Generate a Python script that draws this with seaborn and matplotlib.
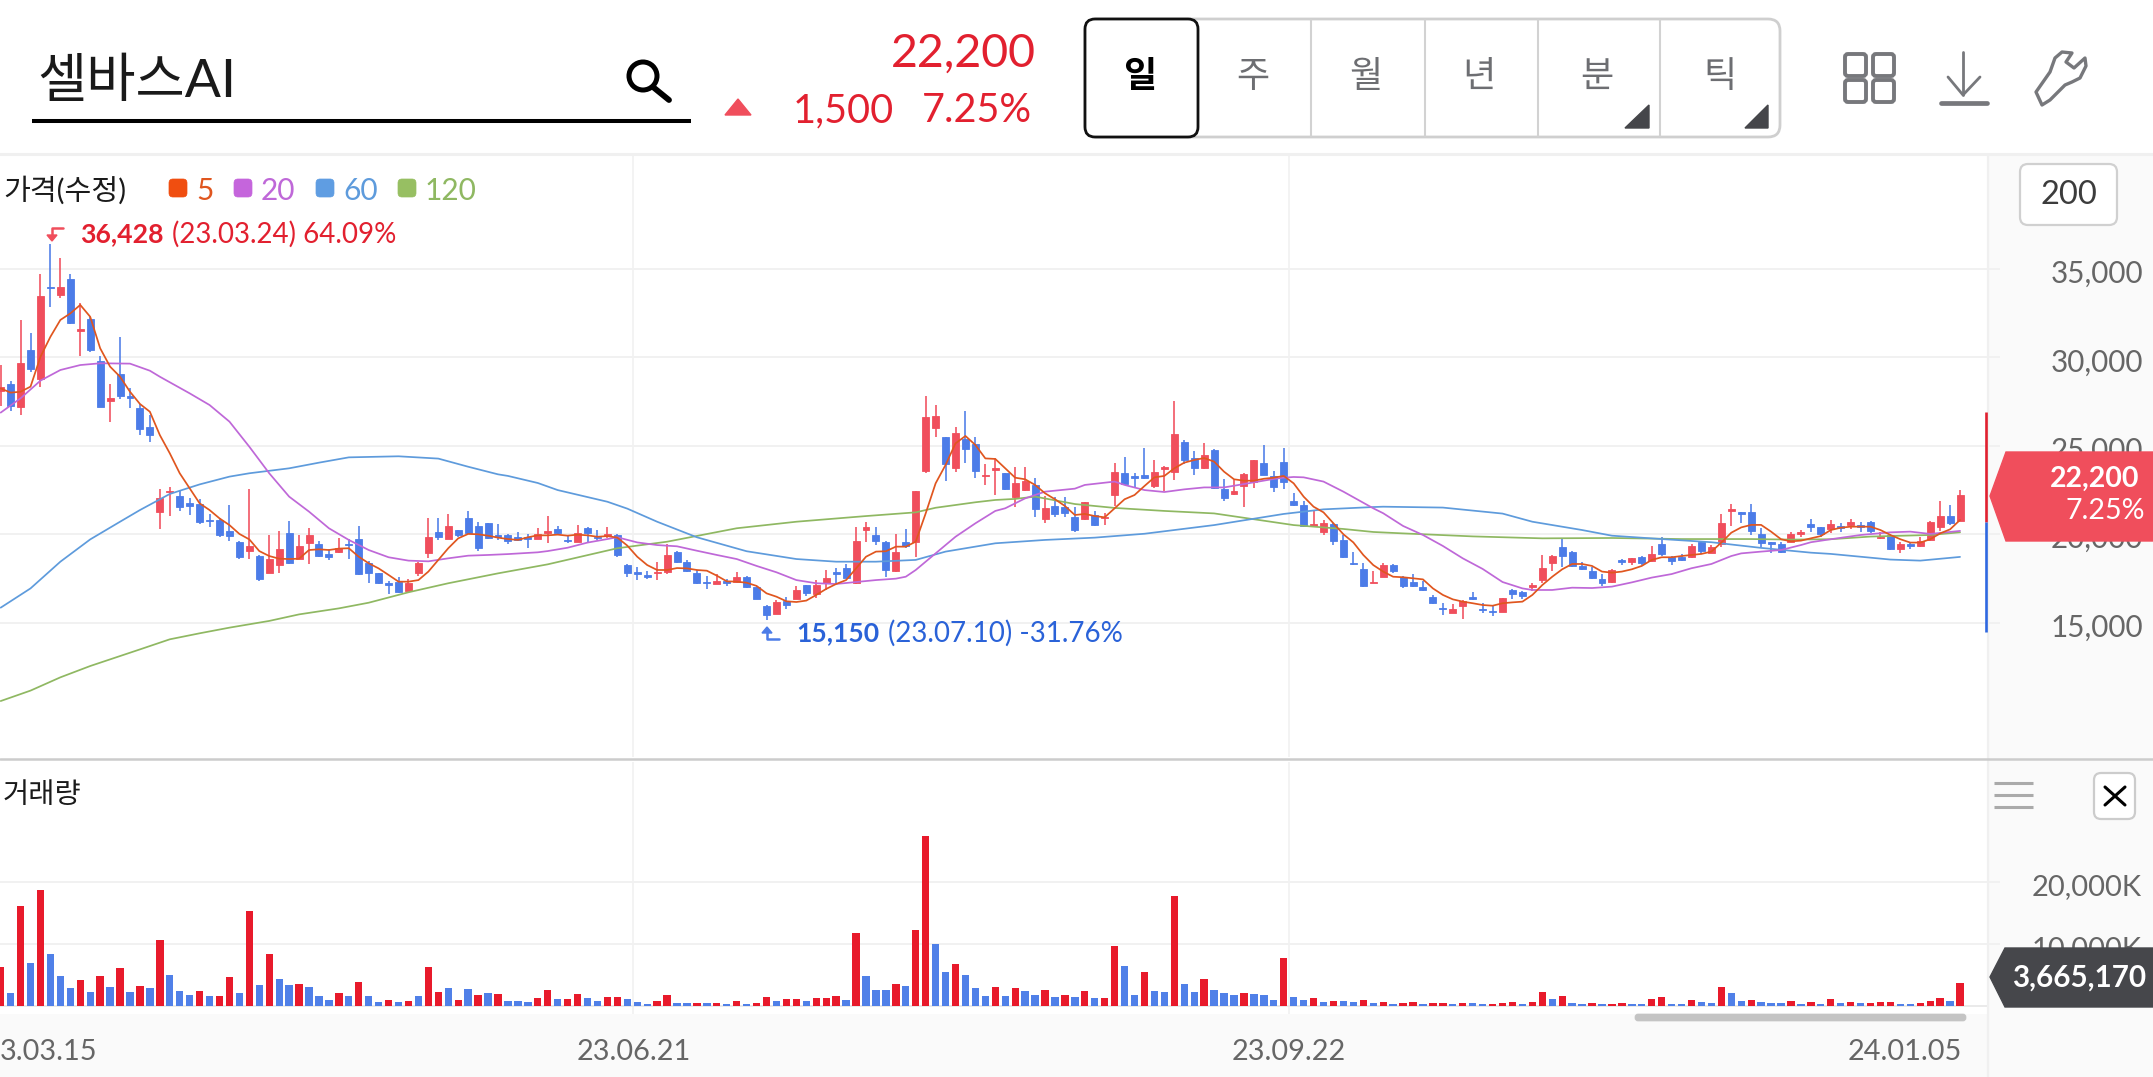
"""Daily candle chart with moving averages and volume, styled like a Korean brokerage app."""

import matplotlib

matplotlib.use("Agg")

import matplotlib.pyplot as plt
import pandas as pd
import seaborn as sns
from matplotlib.patches import Circle, FancyBboxPatch, Polygon
from matplotlib.transforms import ScaledTranslation

WIDTH, HEIGHT = 2153, 1077

# daily prices (won), one entry per candle
opens = [
    28120, 28500, 27220, 30400, 28760, 34000, 33510, 34440, 31510, 32150,
    29820, 27520, 29040, 27820, 27160, 26050, 21260, 22390, 22160, 21770,
    21710, 20810, 20810, 20190, 19560, 19070, 18770, 17830, 18280, 20090,
    18620, 19530, 19450, 18900, 18980, 19470, 19730, 18390, 17790, 17230,
    17300, 16810, 17790, 18920, 20130, 19750, 20220, 20940, 20490, 20620,
    19960, 19940, 19860, 19850, 19730, 20090, 20320, 19700, 19580, 20360,
    19860, 19900, 19960, 18240, 17850, 17680, 17790, 17850, 19020, 18410,
    17830, 17300, 17210, 17340, 17280, 17580, 17040, 15930, 15510, 16210,
    16360, 17110, 16640, 17230, 17850, 18070, 17240, 20220, 19940, 19560,
    17900, 19540, 19560, 23560, 26030, 25500, 23770, 25370, 25090, 23280,
    23630, 23470, 22090, 22500, 22790, 20860, 21600, 21520, 20960, 20860,
    21090, 20920, 22200, 23480, 23280, 23330, 22730, 23670, 23540, 25200,
    24330, 23730, 24750, 22580, 22280, 22710, 22980, 24010, 23300, 24090,
    21900, 21660, 20470, 20130, 20580, 19660, 18390, 18060, 17240, 17600,
    18280, 17600, 17300, 17040, 16440, 15850, 15550, 15960, 16450, 15790,
    15660, 15620, 16850, 16760, 17000, 17430, 18400, 19260, 19020, 18230,
    17940, 17490, 17300, 18550, 18450, 18730, 18470, 19450, 18730, 18730,
    18700, 19560, 18960, 19450, 21340, 21240, 21280, 20000, 19550, 19430,
    19580, 20040, 20600, 20390, 20320, 20470, 20530, 20510, 20700, 19770,
    19980, 19190, 19450, 19360, 19680, 20390, 21030, 20770,
]
highs = [
    29570, 28670, 32120, 31360, 34700, 36428, 35640, 34720, 33100, 32270,
    30100, 28480, 31140, 28250, 27370, 26750, 22540, 22690, 22470, 22030,
    21980, 21150, 20900, 21660, 19640, 22540, 18830, 19960, 20200, 20750,
    19960, 20370, 19640, 19150, 19790, 19710, 20470, 18510, 17830, 17380,
    17570, 17450, 18430, 20940, 20900, 21150, 20240, 21320, 20680, 20640,
    20580, 20020, 20150, 20000, 20340, 21030, 20490, 19960, 20510, 20410,
    20240, 20410, 20000, 18300, 18130, 17920, 18450, 19450, 19050, 18550,
    17980, 17620, 17730, 17450, 17870, 17660, 17080, 15980, 16260, 16470,
    17090, 17150, 17410, 17980, 18070, 18300, 20430, 20680, 20390, 19600,
    20030, 20280, 22450, 27820, 27290, 25520, 26090, 26950, 25520, 23970,
    24290, 23480, 23820, 23820, 23160, 22160, 22090, 22130, 21560, 21840,
    21320, 21180, 24010, 24390, 23480, 24860, 24200, 23860, 27560, 25330,
    24730, 25140, 24800, 23110, 23070, 23450, 24200, 25050, 23600, 24860,
    22320, 21900, 21370, 20810, 20620, 19960, 18980, 18360, 17940, 18360,
    18300, 17640, 17750, 17380, 16590, 16100, 16080, 16270, 16740, 16130,
    15950, 16420, 16890, 16770, 17230, 18830, 18810, 19790, 19060, 18450,
    18170, 17740, 18020, 18580, 18680, 18750, 19340, 19830, 18770, 18870,
    19450, 19580, 19380, 21130, 21690, 21280, 21690, 20370, 19580, 19580,
    20110, 20240, 20850, 20430, 20810, 20660, 20850, 20710, 20750, 20150,
    20020, 19580, 19580, 19830, 20730, 21880, 21640, 22490,
]
lows = [
    27250, 26990, 26750, 29200, 28350, 32830, 33340, 31870, 30100, 30330,
    27200, 26370, 27650, 27120, 25610, 25240, 20320, 21030, 21320, 21090,
    20580, 20390, 19830, 19640, 18580, 18620, 17380, 17790, 17830, 18320,
    18580, 18320, 18730, 18560, 18960, 18620, 17720, 17230, 17210, 16620,
    16700, 16770, 17640, 18660, 19680, 19730, 19860, 20010, 19070, 19710,
    19680, 19450, 19640, 19240, 19710, 19490, 20000, 19490, 19560, 19490,
    19680, 19810, 18730, 17600, 17410, 17490, 17430, 17750, 18380, 17890,
    17190, 16890, 17170, 17080, 17240, 16960, 16320, 15150, 15490, 15760,
    16320, 16510, 16400, 16850, 17230, 17510, 17190, 19560, 19370, 17570,
    17870, 19200, 18730, 23450, 25520, 23030, 23520, 24010, 23160, 22810,
    22220, 22500, 21560, 22470, 20960, 20660, 20960, 21000, 20150, 20810,
    20470, 20510, 21600, 22790, 22650, 23130, 22640, 22430, 23070, 23970,
    23350, 23670, 22580, 21860, 22240, 21560, 22640, 23330, 22370, 22580,
    21600, 20430, 20430, 19960, 19370, 18660, 18260, 17040, 17230, 17570,
    17790, 16940, 17040, 16770, 16060, 15460, 15530, 15210, 16300, 15530,
    15400, 15610, 16360, 16320, 16810, 17230, 17920, 18170, 18170, 18000,
    17490, 17100, 17260, 18240, 18280, 18280, 18430, 18770, 18280, 18490,
    18660, 18890, 18920, 19260, 20470, 20620, 19940, 19300, 18960, 18960,
    19550, 19830, 20150, 19870, 20050, 20150, 20280, 20150, 20050, 19730,
    19130, 18920, 19190, 19280, 19640, 20210, 20510, 20730,
]
closes = [
    28350, 27250, 29670, 29350, 33470, 33930, 33980, 31970, 31590, 30420,
    27220, 27730, 27840, 27690, 25930, 25630, 22050, 22470, 21560, 21580,
    20680, 20730, 19940, 19920, 18730, 19340, 17450, 18580, 19170, 18390,
    19360, 19980, 18790, 18700, 19220, 19410, 17730, 17790, 17230, 17150,
    16750, 17260, 18360, 19850, 19830, 20490, 19960, 20050, 19240, 19770,
    19860, 19640, 19680, 19730, 20020, 20190, 20050, 19600, 20090, 20050,
    19790, 20000, 18830, 17830, 17770, 17580, 17870, 18810, 18410, 17940,
    17260, 17240, 17340, 17260, 17580, 17040, 16360, 15420, 16170, 15980,
    16850, 16660, 17130, 17530, 17770, 17550, 19620, 20410, 19620, 17980,
    18980, 19340, 22430, 26650, 26710, 23970, 25750, 24840, 23600, 23350,
    23730, 22540, 22880, 22990, 21410, 21470, 21150, 21180, 20240, 21830,
    20510, 21000, 23500, 22840, 23160, 23160, 23540, 23800, 25650, 24200,
    23730, 24500, 22600, 22050, 22430, 23430, 24180, 23370, 22650, 22980,
    21640, 20470, 20560, 20660, 19600, 18700, 18300, 17090, 17320, 18260,
    17920, 17080, 17080, 16870, 16110, 15760, 15780, 16230, 16360, 15720,
    15590, 16400, 16620, 16510, 17110, 18110, 18790, 18770, 18210, 18040,
    17530, 17260, 17980, 18450, 18640, 18400, 18870, 18890, 18510, 18530,
    19340, 19040, 19260, 20620, 21410, 21130, 20190, 19490, 19470, 19000,
    20000, 20130, 20430, 20020, 20580, 20370, 20680, 20390, 20170, 19850,
    19150, 19450, 19360, 19640, 20710, 21030, 20660, 22200,
]

# 5-day average, read per candle
ma5 = [
    28250, 28010, 28060, 28350, 30040, 31170, 32120, 32490, 32970, 32300,
    30520, 29480, 28910, 28060, 27370, 26930, 25610, 24580, 23450, 22600,
    21750, 21370, 20900, 20520, 20020, 19710, 19050, 18770, 18620, 18600,
    18620, 19110, 19150, 19110, 19190, 19210, 18730, 18360, 18070, 17700,
    17320, 17320, 17410, 17890, 18550, 19210, 19770, 20020, 20000, 19920,
    19810, 19730, 19680, 19830, 19940, 19940, 19980, 19920, 19980, 19940,
    19860, 19900, 19810, 19360, 18730, 18260, 17980, 17980, 18090, 18070,
    17980, 17940, 17660, 17340, 17320, 17260, 17080, 16660, 16470, 16210,
    16170, 16250, 16570, 16910, 17190, 17410, 18070, 18730, 19020, 19040,
    19300, 19300, 19580, 21180, 22880, 23920, 25140, 25560, 25050, 24290,
    24260, 23730, 23200, 23110, 22790, 22320, 21980, 21600, 21090, 21150,
    21030, 20960, 21470, 21980, 22220, 22730, 23220, 23300, 23730, 24050,
    24200, 24310, 24110, 23540, 23110, 23030, 23030, 23140, 23200, 23300,
    22880, 22130, 21560, 21240, 20620, 20000, 19540, 18830, 18260, 17890,
    17600, 17570, 17510, 17450, 16940, 16570, 16320, 16190, 16100, 16000,
    15960, 16100, 16150, 16190, 16570, 17130, 17600, 18020, 18320, 18320,
    18210, 17890, 17830, 17890, 18020, 18210, 18550, 18700, 18700, 18770,
    18830, 18890, 19020, 19530, 20090, 20390, 20530, 20530, 20150, 19720,
    19600, 19640, 19770, 19900, 20240, 20370, 20430, 20430, 20430, 20240,
    19960, 19720, 19530, 19530, 19720, 20050, 20280, 20810,
]

# longer averages are smooth, so read at fewer candles
ma20_idx = [
    0, 2, 4, 6, 8, 10, 13, 15, 16, 19, 21, 23, 25, 27, 29, 31, 33, 35, 37, 39,
    41, 43, 45, 47, 49, 51, 54, 55, 57, 59, 62, 64, 66, 68, 70, 72, 74, 76, 78,
    80, 82, 84, 86, 88, 90, 91, 92, 94, 96, 98, 100, 101, 103, 105, 108, 109,
    112, 113, 115, 117, 119, 121, 123, 125, 128, 129, 130, 131, 133, 135, 138,
    139, 141, 143, 145, 147, 149, 151, 153, 154, 156, 158, 160, 162, 164, 166,
    168, 170, 172, 174, 175, 177, 179, 181, 182, 184, 187, 190, 192, 194, 197,
]
ma20_val = [
    26880, 27690, 28690, 29290, 29570, 29670, 29650, 29250, 28910, 27970,
    27310, 26370, 24950, 23450, 22130, 21280, 20340, 19680, 19110, 18700,
    18510, 18470, 18640, 18790, 18830, 18880, 18980, 19050, 19240, 19530,
    19830, 19540, 19390, 19320, 19070, 18830, 18600, 18210, 17850, 17410,
    17230, 17190, 17300, 17410, 17490, 17600, 17980, 18920, 19860, 20620,
    21320, 21470, 22030, 22410, 22580, 22790, 22980, 22790, 22500, 22390,
    22540, 22650, 22650, 22840, 23130, 23200, 23240, 23220, 22980, 22410,
    21470, 21190, 20470, 19960, 19340, 18640, 18040, 17300, 16940, 16850,
    16850, 16980, 16960, 17040, 17280, 17550, 17750, 18080, 18320, 18770,
    18920, 19020, 19110, 19390, 19550, 19720, 19960, 20110, 20150, 20020,
    20190,
]
ma60_idx = [
    0, 3, 6, 9, 12, 14, 17, 20, 23, 25, 29, 32, 35, 40, 44, 47, 50, 51, 54, 56,
    61, 63, 66, 70, 75, 80, 84, 88, 92, 95, 100, 105, 110, 115, 122, 129, 133,
    138, 139, 145, 151, 154, 159, 162, 167, 172, 177, 182, 184, 190, 193, 197,
]
ma60_val = [
    15850, 16940, 18450, 19710, 20710, 21370, 22280, 22820, 23260, 23450,
    23730, 24050, 24350, 24410, 24280, 23820, 23390, 23300, 22900, 22500,
    21840, 21450, 20710, 19830, 19040, 18600, 18450, 18450, 18550, 19020,
    19490, 19680, 19810, 20030, 20520, 21150, 21410, 21540, 21560, 21510,
    21170, 20710, 20240, 19920, 19730, 19550, 19230, 18960, 18890, 18570,
    18510, 18720,
]
ma120_idx = [
    0, 3, 6, 9, 14, 17, 20, 23, 27, 30, 34, 37, 41, 45, 50, 55, 62, 67, 74, 80,
    87, 92, 94, 98, 100, 102, 104, 108, 112, 117, 122, 126, 130, 135, 138, 141,
    148, 155, 162, 169, 176, 180, 184, 188, 194, 197,
]
ma120_val = [
    10570, 11160, 11910, 12550, 13490, 14060, 14400, 14720, 15100, 15470,
    15810, 16130, 16720, 17230, 17790, 18300, 19210, 19580, 20340, 20710,
    21030, 21240, 21500, 21810, 21940, 22000, 22130, 21710, 21490, 21320,
    21180, 20850, 20520, 20300, 20130, 20050, 19880, 19770, 19790, 19730,
    19730, 19700, 19720, 19870, 19960, 20110,
]

# volume in thousands of shares; "r" and "b" give the bar colour
volumes = [
    6320, 2050, 16100, 6860, 18750, 8380, 4760, 2970, 4160, 2220,
    4810, 3130, 6160, 2270, 3240, 2860, 10590, 5030, 2380, 1780,
    2380, 1620, 1620, 4700, 2160, 15300, 3400, 8320, 4380, 3350,
    3620, 3080, 1620, 970, 2110, 1570, 3890, 1620, 700, 920,
    700, 760, 1620, 6270, 2320, 2970, 970, 2810, 1730, 2160,
    2000, 760, 760, 700, 1350, 2540, 1080, 1080, 1890, 1240,
    810, 1410, 1510, 1140, 650, 320, 760, 1730, 490, 430,
    490, 430, 490, 270, 810, 270, 490, 1410, 810, 1080,
    1190, 810, 1300, 1300, 1570, 970, 11840, 4860, 2590, 2540,
    3620, 3240, 12210, 27400, 10050, 5410, 6760, 4920, 2860, 1620,
    3080, 1570, 2970, 2380, 1840, 2540, 1410, 1730, 1510, 2430,
    1300, 1300, 9670, 6490, 1780, 5460, 2380, 2220, 17670, 3570,
    2320, 4320, 2650, 2050, 1730, 2050, 1950, 1730, 1030, 7780,
    1410, 1030, 1300, 650, 810, 810, 650, 970, 490, 590,
    270, 490, 590, 380, 430, 490, 270, 490, 430, 270,
    320, 430, 650, 380, 590, 2320, 1190, 1620, 490, 380,
    490, 320, 380, 540, 270, 270, 1140, 1460, 380, 380,
    1030, 590, 490, 3130, 2050, 810, 970, 700, 430, 430,
    810, 380, 700, 380, 1190, 540, 590, 430, 490, 590,
    650, 380, 380, 430, 760, 1350, 810, 3665,
]
volume_flags = (
    "rbrbrbbbrbrbrbrbrbbbrbrrbrbrbbrbbbrbrbbrbrbrrbrbrbrbbbrrbrrbbrrbbbrrbbrbr"
    "brbrrbrrbrrrbrbbbrbrrbbrbbbrbrbbrbrbrbrrbbrbbrbbrbbbrbbbrbbrbrbbrbrbrrbr"
    "rbrbbrrrbrrbrbbrbrrbbrrbbrbbrbbrbbbrbrbrbrbrrrbbrrrbr"
)

price_ticks = [15000, 20000, 25000, 30000, 35000]
price_tick_labels = ["15,000", "20,000", "25,000", "30,000", "35,000"]
volume_ticks = [10000, 20000]
volume_tick_labels = ["10,000K", "20,000K"]
date_labels = ["3.03.15", "23.06.21", "23.09.22", "24.01.05"]
date_positions = [4.85, 63.6, 129.5, 191.4]
period_labels = ["일", "주", "월", "년", "분", "틱"]
ma_labels = ["5", "20", "60", "120"]

UP = "#f04e5c"
DOWN = "#4c7ce8"
VOL_UP = "#e81a2b"
VOL_DOWN = "#5080e8"
TEXT_RED = "#e2202f"
TEXT_BLUE = "#2a62d8"
MA_COLORS = ["#e0561f", "#bf68d8", "#5e9bdc", "#8fb862"]
GRID = "#f1f1f1"
STRIP = "#fafafa"
AXIS_TEXT = "#666666"
ICON = "#77787c"

sns.set_theme(style="white")
plt.rcParams["font.family"] = ["Lato", "Noto Sans CJK KR", "DejaVu Sans"]


def px_axes(fig, left, top, right, bottom, zorder):
    """Axes placed by pixel box of the final image."""
    ax = fig.add_axes(
        [left / WIDTH, 1 - bottom / HEIGHT, (right - left) / WIDTH, (bottom - top) / HEIGHT],
        zorder=zorder,
    )
    ax.patch.set_alpha(0)
    return ax


def round_box(ax, x0, y0, x1, y1, edge, fill="white", lw=1.6, radius=8):
    ax.add_patch(
        FancyBboxPatch(
            (x0, y0), x1 - x0, y1 - y0,
            boxstyle=f"round,pad=0,rounding_size={radius}",
            facecolor=fill, edgecolor=edge, linewidth=lw,
        )
    )


def draw_candles(ax):
    for i, (o, h, l, c) in enumerate(zip(opens, highs, lows, closes)):
        color = UP if c >= o else DOWN
        ax.vlines(i, l, h, color=color, linewidth=1.35, alpha=0.85, zorder=2)
        ax.bar(i, abs(c - o), bottom=min(o, c), width=0.7, color=color,
               edgecolor=color, linewidth=0.6, zorder=2)


def draw_averages(ax):
    series = [
        (list(range(len(ma5))), ma5),
        (ma20_idx, ma20_val),
        (ma60_idx, ma60_val),
        (ma120_idx, ma120_val),
    ]
    # 120 first so the shorter averages stay on top
    for (xs, ys), color, z in reversed(list(zip(series, MA_COLORS, [6, 5, 4, 3]))):
        sns.lineplot(x=xs, y=ys, ax=ax, color=color, linewidth=1.25, errorbar=None, zorder=z)


def style_axis(ax, ticks, labels, pad, size):
    ax.set_yticks(ticks, labels)
    ax.yaxis.tick_right()
    ax.tick_params(axis="y", right=True, length=9, width=1.4, color=GRID, pad=pad,
                   labelsize=size, labelcolor=AXIS_TEXT)
    # labels sit a little under their grid lines
    nudge = ScaledTranslation(0, -2.5 / 100, ax.figure.dpi_scale_trans)
    for label in ax.get_yticklabels():
        label.set_transform(label.get_transform() + nudge)
    ax.grid(axis="y", color=GRID, linewidth=1.4, zorder=0)
    ax.set_xlabel("")
    ax.set_ylabel("")
    sns.despine(ax=ax, left=True, bottom=True, right=True, top=True)
    for x in date_positions[1:3]:
        ax.axvline(x, color=GRID, linewidth=1.2, zorder=0)


def draw_header(ov):
    ov.text(37, 82, "셀바스AI", fontsize=38.5, color="#1a1a1a", va="center", ha="left")
    ov.plot([32, 691], [121, 121], color="black", linewidth=2.9, solid_capstyle="butt")
    ov.add_patch(Circle((643, 76), 14, fill=False, edgecolor="black", linewidth=3.6))
    ov.plot([653, 669], [87, 100], color="black", linewidth=4.2, solid_capstyle="round")

    ov.text(1036, 54, "22,200", fontsize=33.5, color=TEXT_RED, ha="right", va="center")
    ov.add_patch(Polygon([(725, 115), (738, 99), (751, 115)], color=UP))
    ov.text(894, 111, "1,500", fontsize=28.5, color=TEXT_RED, ha="right", va="center")
    ov.text(1032, 111, "7.25%", fontsize=28.5, color=TEXT_RED, ha="right", va="center")

    # period selector
    round_box(ov, 1085, 19, 1780, 137, "#cfcfcf", lw=2, radius=12)
    for x in [1311, 1425, 1538, 1660]:
        ov.plot([x, x], [20, 136], color="#d2d2d2", linewidth=1.5)
    round_box(ov, 1085, 19, 1198, 137, "#111111", lw=2, radius=10)
    label_xs = [1140, 1253, 1366, 1479, 1597, 1720]
    for i, (x, label) in enumerate(zip(label_xs, period_labels)):
        ov.text(x, 76, label, fontsize=26, ha="center", va="center",
                color="black" if i == 0 else "#6d6e72", fontweight="bold" if i == 0 else "normal")
    for x0, x1 in [(1625, 1649), (1745, 1768)]:
        ov.add_patch(Polygon([(x0, 128), (x1, 105), (x1, 128)], color="#45464a"))

    # layout, download and settings icons
    for x0 in [1845, 1873]:
        for y0 in [54, 80]:
            round_box(ov, x0, y0, x0 + 21, y0 + 22, ICON, fill="none", lw=2.8, radius=3)
    ov.plot([1963, 1963], [52, 95], color=ICON, linewidth=2)
    ov.plot([1948, 1963, 1980], [77, 95, 77], color=ICON, linewidth=2)
    ov.plot([1941, 1987], [103, 103], color=ICON, linewidth=3.4)
    ov.add_patch(Polygon(
        [(2036, 92), (2042, 105), (2050, 100), (2065, 85), (2072, 82), (2080, 78), (2086, 66),
         (2085, 58), (2074, 68), (2066, 62), (2072, 53), (2062, 52), (2055, 58), (2050, 72)],
        closed=True, fill=False, edgecolor=ICON, linewidth=2.4, joinstyle="round",
    ))
    ov.plot([0, WIDTH], [154, 154], color="#f0f0f0", linewidth=2.2)


def draw_legend(ov):
    ov.text(3, 190, "가격(수정)", fontsize=21, color="#1a1a1a", va="center", ha="left")
    swatch_xs = [169, 234, 316, 398]
    swatch_colors = ["#f04e10", "#c565dc", "#5f9de2", "#97bf62"]
    for x, label, swatch, color in zip(swatch_xs, ma_labels, swatch_colors, MA_COLORS):
        round_box(ov, x, 179, x + 18, 197, swatch, fill=swatch, lw=0.5, radius=4)
        ov.text(x + 27, 191, label, fontsize=21.5, color=color, va="center", ha="left")


def draw_annotations(ov):
    ov.text(80, 234, "36,428", fontsize=19.2, color=TEXT_RED, fontweight="bold", va="center")
    ov.text(172, 234, "(23.03.24) 64.09%", fontsize=20, color=TEXT_RED, va="center")
    ov.plot([63, 52, 52], [228, 228, 236], color=UP, linewidth=1.8)
    ov.add_patch(Polygon([(47, 235), (57, 235), (52, 241)], color=UP))

    ov.text(796, 633, "15,150", fontsize=19.2, color=TEXT_BLUE, fontweight="bold", va="center")
    ov.text(888, 633, "(23.07.10) -31.76%", fontsize=20, color=TEXT_BLUE, va="center")
    ov.plot([767, 767, 779], [632, 639, 639], color=DOWN, linewidth=1.8)
    ov.add_patch(Polygon([(762, 633), (772, 633), (767, 627)], color=DOWN))


def draw_right_side(ov):
    # day range bar, split at the previous close
    ov.plot([1986, 1986], [412, 522], color="#e0202f", linewidth=1.9, solid_capstyle="butt")
    ov.plot([1986, 1986], [522, 632], color="#2f68e0", linewidth=1.9, solid_capstyle="butt")

    round_box(ov, 2020, 164, 2117, 225, "#d0d0d0", lw=1.6, radius=8)
    ov.text(2069, 195, "200", fontsize=23.5, color="#3c3c3c", ha="center", va="center")

    ov.add_patch(Polygon([(1990, 496), (2006, 452), (2153, 452), (2153, 541), (2006, 541)], color=UP))
    ov.text(2139, 479, "22,200", fontsize=20.5, color="white", fontweight="bold", ha="right", va="center")
    ov.text(2145, 511, "7.25%", fontsize=20.5, color="white", ha="right", va="center")

    for y in [783, 795, 807]:
        ov.plot([1994, 2033], [y, y], color="#aaaaaa", linewidth=2.2, solid_capstyle="butt")
    round_box(ov, 2094, 773, 2135, 819, "#cccccc", lw=1.6, radius=7)
    ov.plot([2105, 2125], [787, 805], color="black", linewidth=2.2)
    ov.plot([2105, 2125], [805, 787], color="black", linewidth=2.2)

    ov.add_patch(Polygon([(1990, 977), (2005, 948), (2153, 948), (2153, 1007), (2005, 1007)], color="#46474b"))
    ov.text(2146, 978, "3,665,170", fontsize=21.3, color="white", fontweight="bold", ha="right", va="center")

    round_box(ov, 1635, 1014, 1966, 1021, "#c4c4c4", fill="#c4c4c4", lw=0.5, radius=3)


def main():
    fig = plt.figure(figsize=(WIDTH / 100, HEIGHT / 100), dpi=100, facecolor="white")

    # strips behind the axis labels
    bg = px_axes(fig, 0, 0, WIDTH, HEIGHT, 0)
    bg.set_xlim(0, WIDTH)
    bg.set_ylim(HEIGHT, 0)
    bg.axis("off")
    bg.fill_between([1987, WIDTH], 155, HEIGHT, color=STRIP, linewidth=0)
    bg.fill_between([0, WIDTH], 1014, HEIGHT, color=STRIP, linewidth=0)
    bg.plot([1988, 1988], [155, HEIGHT], color="#f0f0f0", linewidth=1.6)

    ax_price = px_axes(fig, 0, 155, 1987, 757, 1)
    draw_candles(ax_price)
    draw_averages(ax_price)
    ax_price.set_xlim(-0.07, 199.71)
    ax_price.set_ylim(7405, 41448)
    ax_price.set_xticks([])
    style_axis(ax_price, price_ticks, price_tick_labels, 37, 21.3)

    ax_vol = px_axes(fig, 0, 762, 1987, 1014, 1)
    frame = pd.DataFrame({
        "idx": range(len(volumes)),
        "volume": volumes,
        "side": list(volume_flags),
    })
    sns.barplot(data=frame, x="idx", y="volume", hue="side", palette={"r": VOL_UP, "b": VOL_DOWN},
                native_scale=True, dodge=False, width=0.74, saturation=1, linewidth=0,
                legend=False, ax=ax_vol, zorder=2)
    ax_vol.axhline(0, color="#eaeaea", linewidth=1.4, zorder=1)
    ax_vol.set_xlim(-0.07, 199.71)
    ax_vol.set_ylim(-1290, 39355)
    ax_vol.set_xticks(date_positions, date_labels)
    ax_vol.tick_params(axis="x", length=0, pad=18, labelsize=20.8, labelcolor=AXIS_TEXT)
    style_axis(ax_vol, volume_ticks, volume_tick_labels, 23, 21)

    # everything else sits on a pixel-sized overlay
    ov = px_axes(fig, 0, 0, WIDTH, HEIGHT, 5)
    ov.set_xlim(0, WIDTH)
    ov.set_ylim(HEIGHT, 0)
    ov.axis("off")
    ov.plot([0, WIDTH], [759, 759], color="#cccccc", linewidth=1.8)
    ov.text(3, 795, "거래량", fontsize=20.5, color="#1a1a1a", va="center", ha="left")
    draw_header(ov)
    draw_legend(ov)
    draw_annotations(ov)
    draw_right_side(ov)

    fig.savefig("out.png", dpi=100, facecolor="white")
    plt.close(fig)


if __name__ == "__main__":
    main()
